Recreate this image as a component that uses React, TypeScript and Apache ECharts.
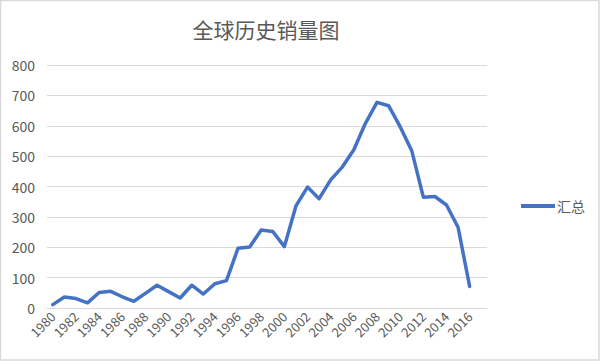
import React, { useEffect, useRef } from "react";
import * as echarts from "echarts";

const years: string[] = [
  "1980","1981","1982","1983","1984","1985","1986","1987","1988","1989",
  "1990","1991","1992","1993","1994","1995","1996","1997","1998","1999",
  "2000","2001","2002","2003","2004","2005","2006","2007","2008","2009",
  "2010","2011","2012","2013","2014","2015","2016","2017",
];

const totals: (number | null)[] = [
  11, 36, 31, 17, 51, 55, 37, 22, 48, 75,
  54, 33, 75, 46, 80, 90, 197, 201, 257, 252,
  202, 336, 398, 360, 422, 464, 521, 608, 677, 666,
  597, 518, 365, 367, 339, 266, 71, null,
];

const yTicks = { min: 0, max: 800, interval: 100 };

const FONT = "'Noto Sans CJK SC', 'Noto Sans', sans-serif";

export default function App() {
  const ref = useRef<HTMLDivElement>(null);
  useEffect(() => {
    document.body.style.margin = "0";
    if (!ref.current) return;
    const chart = echarts.init(ref.current, undefined, { renderer: "svg" });
    chart.setOption({
      animation: false,
      backgroundColor: "#ffffff",
      title: {
        text: "全球历史销量图",
        left: 261,
        top: 13,
        textAlign: "center",
        textStyle: { fontFamily: FONT, fontSize: 21, fontWeight: "normal", color: "#595959" },
      },
      legend: {
        data: [{ name: "汇总", icon: "rect" }],
        left: 516,
        top: 194,
        orient: "vertical",
        itemWidth: 34,
        itemHeight: 4,
        itemGap: 4,
        textStyle: { fontFamily: FONT, fontSize: 14, color: "#595959", padding: [0, 0, 0, -3] },
      },
      grid: { left: 47, right: 113, top: 65, bottom: 53, containLabel: false },
      xAxis: {
        type: "category",
        data: years,
        boundaryGap: true,
        axisLine: { lineStyle: { color: "#d9d9d9", width: 1 } },
        axisTick: { show: false },
        axisLabel: {
          interval: 1,
          rotate: 45,
          margin: 6,
          fontFamily: FONT,
          fontSize: 13,
          color: "#595959",
        },
      },
      yAxis: {
        type: "value",
        min: yTicks.min,
        max: yTicks.max,
        interval: yTicks.interval,
        axisLine: { show: false },
        axisTick: { show: false },
        splitLine: { lineStyle: { color: "#d9d9d9", width: 1 } },
        axisLabel: { margin: 12, fontFamily: FONT, fontSize: 14, color: "#595959" },
      },
      series: [
        {
          name: "汇总",
          type: "line",
          data: totals,
          symbol: "none",
          lineStyle: { color: "#4472C4", width: 3.5, join: "round", cap: "round" },
          itemStyle: { color: "#4472C4" },
        },
      ],
      graphic: [
        {
          type: "rect",
          shape: { x: 0.5, y: 0.5, width: 598.5, height: 359.5 },
          style: { fill: "none", stroke: "#d9d9d9", lineWidth: 1.5 },
          silent: true,
        },
      ],
    });
    return () => chart.dispose();
  }, []);
  return <div ref={ref} style={{ width: 600, height: 361, position: "absolute", left: 0, top: 0 }} />;
}
